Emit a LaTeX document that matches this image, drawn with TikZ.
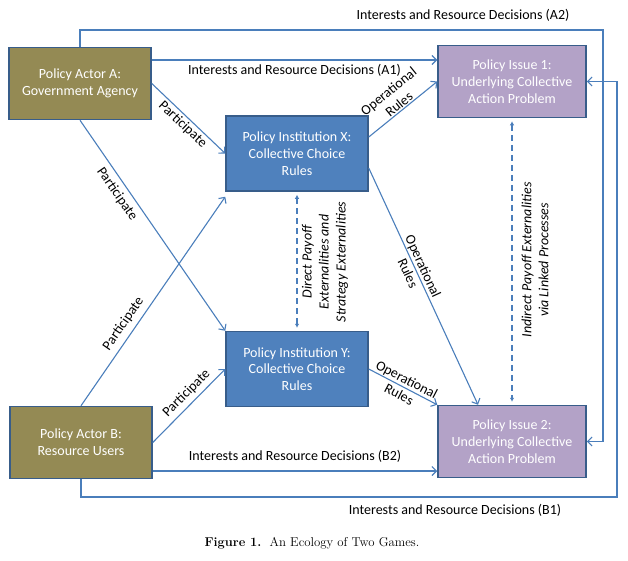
\documentclass[tikz,border=0pt]{standalone}
\usepackage{fontspec}
\newfontfamily\calfont{Carlito}
\usetikzlibrary{arrows.meta}
\definecolor{linkblue}{HTML}{4A7EBB}
\definecolor{boxline}{HTML}{385D8A}
\definecolor{actorfill}{HTML}{948A54}
\definecolor{instfill}{HTML}{4F81BD}
\definecolor{issuefill}{HTML}{B3A2C7}
\begin{document}
\begin{tikzpicture}[x=1pt,y=-1pt]
                  \tikzstyle{every node}+=[inner sep=0pt, align=center, font=\calfont\fontsize{14}{16.7}\selectfont]
                  \tikzstyle{actor}=[draw=boxline, fill=actorfill, line width=1.5pt, text=white, minimum width=142pt, minimum height=72pt]
                  \tikzstyle{inst}=[actor, fill=instfill, minimum height=75pt]
                  \tikzstyle{issue}=[actor, fill=issuefill, minimum width=148pt]
                  \tikzstyle{link}=[draw=linkblue, line width=1.1pt, -{Straight Barb[length=4.5pt,width=9pt]}]
                  \tikzstyle{dashlink}=[draw=linkblue, line width=1.6pt, dash pattern=on 6pt off 4pt, shorten <=3pt, shorten >=3pt, {Latex[length=4pt,width=4.5pt]}-{Latex[length=4pt,width=4.5pt]}]
                  \tikzstyle{note}=[rotate=90, font=\calfont\itshape\fontsize{14}{17}\selectfont]
                  \useasboundingbox (0,0) rectangle (628,560);
                  % boxes
                  \node [actor] (actorA) at (80,83.5) {Policy Actor A:\\Government Agency};
                  \node [actor] (actorB) at (81,442.5) {Policy Actor B:\\Resource Users};
                  \node [inst] (instX) at (297,153.5) {Policy Institution X:\\Collective Choice\\Rules};
                  \node [inst] (instY) at (297,369) {Policy Institution Y:\\Collective Choice\\Rules};
                  \node [issue] (issue1) at (512,81.5) {Policy Issue 1:\\Underlying Collective\\Action Problem};
                  \node [issue] (issue2) at (512,441.5) {Policy Issue 2:\\Underlying Collective\\Action Problem};
                  \coordinate (railA) at (603,30);
                  \coordinate (railB) at (617,497);
                  % interests and resource decisions
                  \draw [link] ([yshift=23.5pt]actorA.east) coordinate (a1) -- (issue1.west |- a1) node [midway, yshift=-10pt] (lblA1) {Interests and Resource Decisions (A1)};
                  \draw [link] (actorA.north) |- (railA) |- (issue2.east);
                  \node (lblA2) at (463,15) {Interests and Resource Decisions (A2)};
                  \draw [link] ([yshift=-28.5pt]actorB.east) coordinate (b2) -- (issue2.west |- b2) node [midway, yshift=15pt] (lblB2) {Interests and Resource Decisions (B2)};
                  \draw [link] (actorB.south) |- (railB) |- (issue1.east);
                  \node (lblB1) at (455,510) {Interests and Resource Decisions (B1)};
                  % participate
                  \draw [link] (actorA.east) -- (instX.west) node [midway, sloped, below=2pt] (lblAX) {Participate};
                  \draw [link] (actorA.south) -- (instY.north west) node [pos=0.32, sloped, below=5pt] (lblAY) {Participate};
                  \draw [link] (actorB.north) -- ([yshift=-5pt]instX.south west) node [pos=0.36, sloped, above=5pt] (lblBX) {Participate};
                  \draw [link] (actorB.east) -- (instY.west) node [pos=0.57, sloped, above=4pt] (lblBY) {Participate};
                  % operational rules
                  \draw [link] ([yshift=16.5pt]instX.east) -- (issue1.west) node [midway, sloped, above=1pt] (lblX1) {Operational\\Rules};
                  \draw [link] ([yshift=-14.5pt]instX.east) -- ([xshift=-34pt]issue2.north) node [pos=0.43, sloped] (lblX2) {Operational\\Rules};
                  \draw [link] (instY.east) -- (issue2.north west) node [midway, sloped] (lblY2) {Operational\\Rules};
                  % externalities
                  \draw [dashlink] (instX.south) -- (instY.north);
                  \node [note] (lblXY) at (325,262) {Direct Payoff\\Externalities and\\Strategy Externalities};
                  \draw [dashlink] (issue1.south) -- (issue2.north);
                  \node [note] (lbl12) at (535,260) {Indirect Payoff Externalities\\via Linked Processes};
                  \node [font=\rmfamily\fontsize{12.8}{15}\selectfont] (caption) at (312,543) {\textbf{Figure 1.}\ \ An Ecology of Two Games.};
              \end{tikzpicture}
\end{document}
